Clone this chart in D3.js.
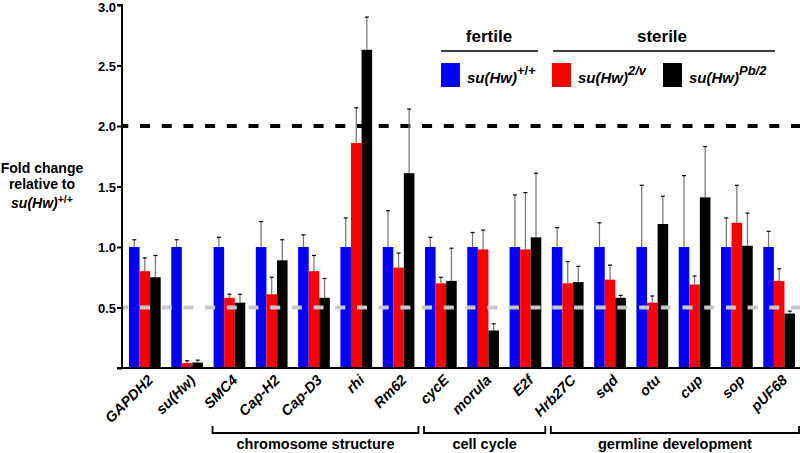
<!DOCTYPE html>
<html><head><meta charset="utf-8">
<script src="https://cdn.jsdelivr.net/npm/d3@7"></script>
<style>
body{margin:0;background:#fff;}
svg{font-family:"Liberation Sans",Arial,sans-serif;font-weight:bold;}
</style></head>
<body><svg id="c" width="800" height="453"></svg>
<script>
const categories = ["GAPDH2","su(Hw)","SMC4","Cap-H2","Cap-D3","rhi","Rm62","cycE","morula","E2f","Hrb27C","sqd","otu","cup","sop","pUF68"];
const seriesNames = ["+/+","2/v","Pb/2"];
const wildType   = [1,1,1,1,1,1,1,1,1,1,1,1,1,1,1,1];
const twoV       = [0.80,0.04,0.58,0.61,0.80,1.86,0.83,0.70,0.98,0.98,0.70,0.73,0.54,0.69,1.20,0.72];
const pb2        = [0.75,0.045,0.54,0.89,0.58,2.63,1.61,0.72,0.31,1.08,0.71,0.58,1.19,1.41,1.01,0.45];
const wildTypeErr= [0.06,0.06,0.08,0.21,0.10,0.24,0.30,0.08,0.12,0.43,0.16,0.20,0.51,0.59,0.24,0.13];
const twoVErr    = [0.11,0.02,0.03,0.14,0.13,0.29,0.12,0.05,0.16,0.47,0.18,0.12,0.055,0.07,0.31,0.10];
const pb2Err     = [0.18,0.02,0.07,0.17,0.16,0.27,0.53,0.27,0.055,0.53,0.13,0.02,0.23,0.42,0.27,0.02];
const yTicks = [0.5,1.0,1.5,2.0,2.5,3.0];
const groups = [
  {label:"chromosome structure", from:"SMC4", to:"Rm62"},
  {label:"cell cycle", from:"cycE", to:"E2f"},
  {label:"germline development", from:"Hrb27C", to:"pUF68"}
];
const colors = ["#0000ff","#ff0000","#000000"];

const svg = d3.select("#c");
const y = d3.scaleLinear().domain([0,3]).range([368,5]);
const x0 = d3.scaleBand().domain(categories).range([122,802]).paddingInner(0.25).paddingOuter(0.165);
const x1 = d3.scaleBand().domain(seriesNames).range([0,x0.bandwidth()]);

const vals = [wildType,twoV,pb2];
const errs = [wildTypeErr,twoVErr,pb2Err];
const data = categories.map((c,i)=>({c, items: seriesNames.map((s,k)=>({s,k,v:vals[k][i],e:errs[k][i]}))}));

// black dashed line at 2.0
svg.append("line").attr("x1",122).attr("x2",800).attr("y1",y(2)).attr("y2",y(2))
  .attr("stroke","#000").attr("stroke-width",4).attr("stroke-dasharray","10,11.7").attr("stroke-dashoffset",3.7);

const g = svg.selectAll("g.cat").data(data).join("g").attr("transform",d=>`translate(${x0(d.c)},0)`);
g.selectAll("line.err").data(d=>d.items).join("line")
  .attr("x1",d=>x1(d.s)+x1.bandwidth()/2).attr("x2",d=>x1(d.s)+x1.bandwidth()/2)
  .attr("y1",d=>y(d.v)).attr("y2",d=>y(d.v+d.e)).attr("stroke","#7a7a7a").attr("stroke-width",1.3);
g.selectAll("line.cap").data(d=>d.items).join("line")
  .attr("x1",d=>x1(d.s)+x1.bandwidth()/2-2).attr("x2",d=>x1(d.s)+x1.bandwidth()/2+2)
  .attr("y1",d=>y(d.v+d.e)).attr("y2",d=>y(d.v+d.e)).attr("stroke","#000").attr("stroke-width",1.2);
g.selectAll("rect").data(d=>d.items).join("rect")
  .attr("x",d=>x1(d.s)).attr("width",x1.bandwidth())
  .attr("y",d=>y(d.v)).attr("height",d=>y(0)-y(d.v)).attr("fill",d=>colors[d.k]);

// gray dashed line at 0.5
svg.append("line").attr("x1",122).attr("x2",800).attr("y1",y(0.5)).attr("y2",y(0.5))
  .attr("stroke","#c8c8c8").attr("stroke-width",4).attr("stroke-dasharray","10,11.7").attr("stroke-dashoffset",3.7);

// y axis
const yAxis = d3.axisLeft(y).tickValues([0].concat(yTicks)).tickSize(5).tickFormat(d=>d===0?"":d3.format(".1f")(d));
const ya = svg.append("g").attr("transform","translate(122,0)").call(yAxis);
ya.select(".domain").attr("stroke-width",2).attr("d","M-5,"+y(3)+"H0V"+y(0)+"H-5");
ya.selectAll(".tick line").attr("stroke-width",2);
ya.selectAll(".tick text").attr("font-size",13).attr("font-weight","bold").attr("font-family",'"Liberation Sans",Arial,sans-serif').attr("x",-6)
  .attr("dy",d=>d===3?"0.5em":"0.36em");

// x axis line
svg.append("line").attr("x1",121).attr("x2",800).attr("y1",368).attr("y2",368).attr("stroke","#000").attr("stroke-width",2);

// x labels
svg.append("g").selectAll("text").data(categories).join("text")
  .attr("transform",d=>`translate(${x0(d)+x0.bandwidth()/2+9},381) rotate(-45)`)
  .attr("text-anchor","end").attr("font-size",14.5).attr("font-style","italic").text(d=>d);

// group brackets
groups.forEach(gr=>{
  const a = x0(gr.from)-1, b = x0(gr.to)+x0.bandwidth()+4;
  svg.append("path").attr("d",`M${a},426V433H${b}V426`).attr("fill","none").attr("stroke","#000").attr("stroke-width",1.8);
  svg.append("text").attr("x",(a+b)/2).attr("y",449).attr("text-anchor","middle").attr("font-size",14.5).text(gr.label);
});

// y label
const yl = svg.append("text").attr("text-anchor","middle").attr("font-size",14);
yl.append("tspan").attr("x",42).attr("y",173).text("Fold change");
yl.append("tspan").attr("x",42).attr("y",189).text("relative to");
const t3 = yl.append("tspan").attr("x",42).attr("y",208);
t3.append("tspan").attr("font-style","italic").text("su(Hw)");
t3.append("tspan").attr("font-size",10.5).attr("dy",-5).text("+/+");

// legend headers
svg.append("text").attr("x",489).attr("y",42).attr("text-anchor","middle").attr("font-size",17).text("fertile");
svg.append("text").attr("x",662).attr("y",42).attr("text-anchor","middle").attr("font-size",17).text("sterile");
svg.append("line").attr("x1",441).attr("x2",538).attr("y1",51).attr("y2",51).attr("stroke","#000").attr("stroke-width",1.6);
svg.append("line").attr("x1",553).attr("x2",775).attr("y1",51).attr("y2",51).attr("stroke","#000").attr("stroke-width",1.6);

const legX = [441,552,663];
seriesNames.forEach((s,k)=>{
  svg.append("rect").attr("x",legX[k]).attr("y",63).attr("width",19).attr("height",24).attr("fill",colors[k]);
  const t = svg.append("text").attr("x",legX[k]+26).attr("y",83).attr("font-size",15).attr("font-style","italic");
  t.append("tspan").text("su(Hw)");
  t.append("tspan").attr("font-size",13).attr("dy",-8).attr("font-style",k===0?"normal":"italic").text(s);
});
</script></body></html>
